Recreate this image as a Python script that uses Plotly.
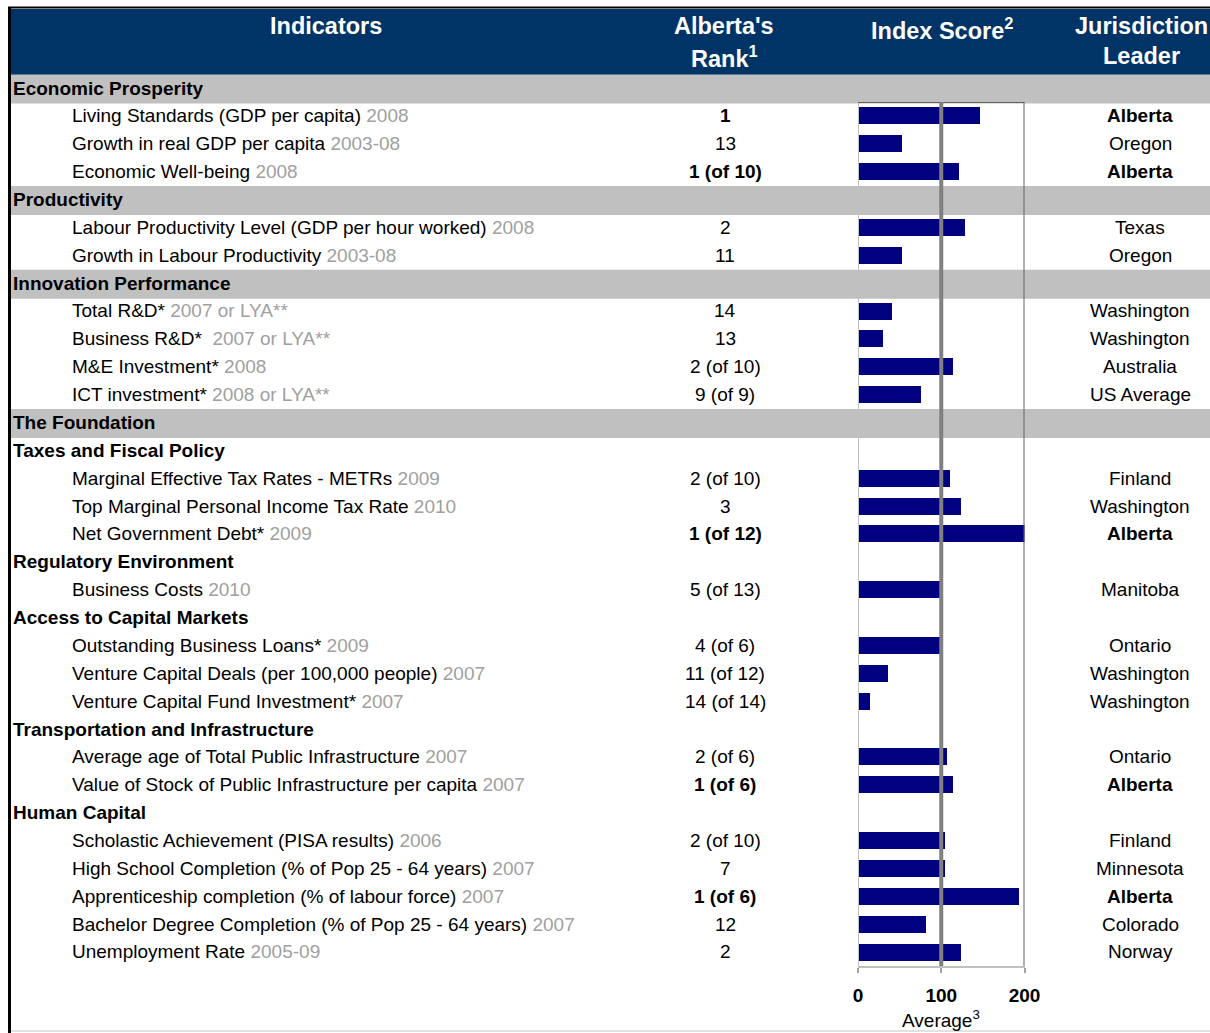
import plotly.graph_objects as go

# ---------------- data ----------------
group_names = ["Economic Prosperity", "Productivity", "Innovation Performance", "The Foundation",
               "Taxes and Fiscal Policy", "Regulatory Environment", "Access to Capital Markets",
               "Transportation and Infrastructure", "Human Capital"]
group_banded = [True, True, True, True, False, False, False, False, False]
group_sizes = [3, 2, 4, 0, 3, 1, 3, 2, 5]

indicators = [
    "Living Standards (GDP per capita)", "Growth in real GDP per capita", "Economic Well-being",
    "Labour Productivity Level (GDP per hour worked)", "Growth in Labour Productivity",
    "Total R&D*", "Business R&D*", "M&E Investment*", "ICT investment*",
    "Marginal Effective Tax Rates - METRs", "Top Marginal Personal Income Tax Rate", "Net Government Debt*",
    "Business Costs",
    "Outstanding Business Loans*", "Venture Capital Deals (per 100,000 people)", "Venture Capital Fund Investment*",
    "Average age of Total Public Infrastructure", "Value of Stock of Public Infrastructure per capita",
    "Scholastic Achievement (PISA results)", "High School Completion (% of Pop 25 - 64 years)",
    "Apprenticeship completion (% of labour force)", "Bachelor Degree Completion (% of Pop 25 - 64 years)",
    "Unemployment Rate",
]
years = ["2008", "2003-08", "2008", "2008", "2003-08",
         "2007 or LYA**", "&nbsp;2007 or LYA**", "2008", "2008 or LYA**",
         "2009", "2010", "2009", "2010", "2009", "2007", "2007", "2007", "2007",
         "2006", "2007", "2007", "2007", "2005-09"]
ranks = ["1", "13", "1 (of 10)", "2", "11", "14", "13", "2 (of 10)", "9 (of 9)",
         "2 (of 10)", "3", "1 (of 12)", "5 (of 13)", "4 (of 6)", "11 (of 12)", "14 (of 14)",
         "2 (of 6)", "1 (of 6)", "2 (of 10)", "7", "1 (of 6)", "12", "2"]
leaders = ["Alberta", "Oregon", "Alberta", "Texas", "Oregon", "Washington", "Washington", "Australia",
           "US Average", "Finland", "Washington", "Alberta", "Manitoba", "Ontario", "Washington",
           "Washington", "Ontario", "Alberta", "Finland", "Minnesota", "Alberta", "Colorado", "Norway"]
scores = [146.5, 53, 121, 128.5, 53, 41, 30, 114, 76, 110.5, 124, 200, 98, 98, 36, 14.5,
          106.5, 114, 104, 104, 193.5, 82, 123.5]
ticks = [0, 100, 200]

# ---------------- layout helpers ----------------
W, H = 1210, 1033
ROW0, ROWH = 88.0, 27.87          # pixel centre of first row, row height
FONT = "Liberation Sans, Arial, sans-serif"
FS = 19


def py(px):
    return 1 - px / H


# compute row indices
item_rows, group_rows = [], []
r = 0
for name, n in zip(group_names, group_sizes):
    group_rows.append(r)
    r += 1
    for _ in range(n):
        item_rows.append(r)
        r += 1

top_row = 0.5
bot_row = r - 0.5
panel_top_px = ROW0 + top_row * ROWH
panel_bot_px = ROW0 + bot_row * ROWH

fig = go.Figure()
fig.add_trace(go.Bar(
    x=scores, y=item_rows, orientation="h", xaxis="x2", yaxis="y2",
    width=0.61, marker=dict(color="#000080", line=dict(width=0)),
    hoverinfo="x", showlegend=False,
))

shapes = []
annotations = []

# header band and borders
shapes.append(dict(type="rect", xref="x", yref="paper", x0=9, x1=W, y0=py(75), y1=py(9),
                   fillcolor="#003366", line=dict(width=0), layer="below"))
shapes.append(dict(type="line", xref="x", yref="paper", x0=8, x1=W, y0=py(7.5), y1=py(7.5),
                   line=dict(color="#000000", width=2)))
shapes.append(dict(type="line", xref="x", yref="paper", x0=9.5, x1=9.5, y0=py(7), y1=py(H),
                   line=dict(color="#000000", width=3)))
shapes.append(dict(type="line", xref="x", yref="paper", x0=11, x1=W, y0=py(1031), y1=py(1031),
                   line=dict(color="#d9d9d9", width=1.5)))

# group rows
for name, banded, gr in zip(group_names, group_banded, group_rows):
    if banded:
        shapes.append(dict(type="rect", xref="x", yref="y", x0=11, x1=W, y0=gr - 0.48, y1=gr + 0.56,
                           fillcolor="#c0c0c0", line=dict(width=0), layer="below"))
    annotations.append(dict(x=11, y=gr, xref="x", yref="y", xanchor="left", yanchor="middle",
                            text="<b>%s</b>" % name, showarrow=False,
                            font=dict(family=FONT, size=FS, color="#000000")))

# item rows
for ind, yr, rk, ld, row in zip(indicators, years, ranks, leaders, item_rows):
    bold = ld == "Alberta"
    annotations.append(dict(x=70, y=row, xref="x", yref="y", xanchor="left", yanchor="middle",
                            text="%s <span style='color:#a0a0a0'>%s</span>" % (ind, yr), showarrow=False,
                            font=dict(family=FONT, size=FS, color="#000000")))
    annotations.append(dict(x=725, y=row, xref="x", yref="y", xanchor="center", yanchor="middle",
                            text=("<b>%s</b>" % rk) if bold else rk, showarrow=False,
                            font=dict(family=FONT, size=FS, color="#000000")))
    annotations.append(dict(x=1140, y=row, xref="x", yref="y", xanchor="center", yanchor="middle",
                            text=("<b>%s</b>" % ld) if bold else ld, showarrow=False,
                            font=dict(family=FONT, size=FS, color="#000000")))

# header texts
hfont = dict(family=FONT, size=23.5, color="#ffffff")
for txt, x, ypx in [("<b>Indicators</b>", 326, 26), ("<b>Alberta's</b>", 724, 26),
                    ("<b>Rank<sup>1</sup></b>", 724, 57), ("<b>Index Score<sup>2</sup></b>", 942, 29),
                    ("<b>Jurisdiction</b>", 1141, 26), ("<b>Leader</b>", 1141, 56)]:
    annotations.append(dict(x=x, y=py(ypx), xref="x", yref="paper", xanchor="center", yanchor="middle",
                            text=txt, showarrow=False, font=hfont))

# bar-panel frame
shapes.append(dict(type="line", xref="x2", yref="y2", x0=0, x1=0, y0=top_row, y1=bot_row,
                   line=dict(color="#c0c0c0", width=2), layer="above"))
shapes.append(dict(type="line", xref="x2", yref="y2", x0=200, x1=200, y0=top_row, y1=bot_row,
                   line=dict(color="#606060", width=2), layer="above"))
shapes.append(dict(type="line", xref="x2", yref="y2", x0=0, x1=200, y0=top_row, y1=top_row,
                   line=dict(color="#606060", width=2), layer="above"))
shapes.append(dict(type="line", xref="x2", yref="y2", x0=100, x1=100, y0=top_row - 0.07, y1=bot_row,
                   line=dict(color="#808080", width=4), layer="above"))

annotations.append(dict(x=100, y=py(1019), xref="x2", yref="paper", xanchor="center", yanchor="middle",
                        text="Average<sup>3</sup>", showarrow=False,
                        font=dict(family=FONT, size=FS, color="#000000")))

fig.update_layout(
    width=W, height=H, margin=dict(l=0, r=0, t=0, b=0, autoexpand=False),
    paper_bgcolor="#ffffff", plot_bgcolor="rgba(0,0,0,0)",
    bargap=0,
    xaxis=dict(domain=[0, 1], range=[0, W], visible=False, fixedrange=True),
    yaxis=dict(domain=[0, 1], range=[(H - ROW0) / ROWH, -ROW0 / ROWH], visible=False, fixedrange=True),
    yaxis2=dict(domain=[py(panel_bot_px), py(panel_top_px)], range=[bot_row, top_row],
                visible=False, fixedrange=True, anchor="x2"),
    xaxis2=dict(domain=[858 / W, 1024.5 / W], range=[0, 200], anchor="y2",
                tickvals=ticks, ticktext=["<b>%d</b>" % t for t in ticks],
                ticks="outside", ticklen=5, tickwidth=2, tickcolor="#a0a0a0",
                showline=True, linecolor="#c0c0c0", linewidth=2, showgrid=False, zeroline=False,
                tickfont=dict(family=FONT, size=FS, color="#000000"), ticklabelstandoff=6,
                automargin=False, fixedrange=True),
    shapes=shapes, annotations=annotations,
)

fig.write_html("out.html", config={"displayModeBar": False},
               post_script="document.body.style.margin='0';document.body.style.overflow='hidden';")
